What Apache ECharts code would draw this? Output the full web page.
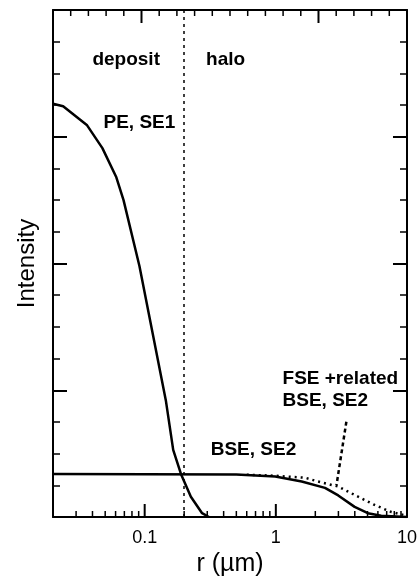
<!DOCTYPE html>
<html>
<head>
<meta charset="utf-8">
<script src="https://cdn.jsdelivr.net/npm/echarts@6/dist/echarts.min.js"></script>
<style>
  html, body { margin: 0; padding: 0; background: #fff; }
  #chart { width: 420px; height: 583px; }
</style>
</head>
<body>
<div id="chart"></div>
<script>
// Radial intensity profiles, r in µm
const peRadius     = [0.02, 0.0239, 0.0364, 0.0476, 0.0608, 0.069, 0.0912, 0.115, 0.145, 0.165, 0.189, 0.225, 0.274, 0.309];
const peIntensity  = [3.26, 3.24, 3.09, 2.91, 2.68, 2.50, 1.98, 1.45, 0.92, 0.53, 0.34, 0.16, 0.03, 0];

const bseRadius    = [0.02, 0.5, 0.99, 1.575, 2.37, 2.99, 3.99, 5.03, 6.36, 10];
const bseIntensity = [0.34, 0.335, 0.32, 0.28, 0.23, 0.17, 0.08, 0.03, 0.01, 0];

const fseRadius    = [0.6, 1.0, 1.67, 2.1, 2.99, 4.24, 5.67, 7.57, 9.55];
const fseIntensity = [0.334, 0.325, 0.31, 0.28, 0.24, 0.16, 0.095, 0.04, 0.015];

// Deposit / halo boundary radius
const depositEdge = 0.2;

// Bottom (log) axis ticks
const xMajorTicks = [0.1, 1, 10];
const xMinorTicks = [0.03, 0.04, 0.05, 0.06, 0.07, 0.08, 0.09,
                     0.2, 0.3, 0.4, 0.5, 0.6, 0.7, 0.8, 0.9,
                     2, 3, 4, 5, 6, 7, 8, 9];
// Top edge: plain linear tick row on a 0–20 scale
const topMajorTicks = [5, 15];
const topMinorTicks = [1, 2, 3, 4, 6, 7, 8, 9, 10, 11, 12, 13, 14, 16, 17, 18, 19];

// Text annotations anchored in data space (r, intensity, text)
const labelTexts = ['deposit', 'halo', 'PE, SE1', 'BSE, SE2'];
const labelR     = [0.0723, 0.414, 0.0912, 0.675];
const labelI     = [3.61, 3.61, 3.11, 0.53];
const fseLabel   = ['FSE +related', 'BSE, SE2'];
const fseLabelAt = [1.125, 1.0];
// Pointer from the FSE label down to the dotted profile
const pointerFrom = [3.45, 0.752];
const pointerTo   = [2.9, 0.25];

const zip = (a, b) => a.map((v, i) => [v, b[i]]);
const FONT = 'Liberation Sans, Arial, Helvetica, sans-serif';
const INK = '#000';
const MAJOR_LEN = 13, MINOR_LEN = 6;
const Y_MAX = 4;

const chart = echarts.init(document.getElementById('chart'), null, { renderer: 'canvas' });

const frameLine = { show: true, onZero: false, lineStyle: { color: INK, width: 2 } };
const yAxisBase = {
  type: 'value', min: 0, max: Y_MAX, interval: 1,
  splitLine: { show: false }, minorSplitLine: { show: false },
  axisLine: frameLine,
  axisTick: { show: true, inside: true, length: MAJOR_LEN + 1, lineStyle: { color: INK, width: 2 } },
  minorTick: { show: true, splitNumber: 4, length: 7, lineStyle: { color: INK, width: 1.5 } },
  axisLabel: { show: false }
};

const labelStyle = {
  fontFamily: FONT, fontWeight: 'bold', fontSize: 19, color: INK,
  textBorderWidth: 0, textShadowBlur: 0, opacity: 1
};

// Tick rows drawn through the axis scales: [value, isMajor]
const bottomTickData = xMajorTicks.map(v => [v, 1]).concat(xMinorTicks.map(v => [v, 0]));
const topTickData = topMajorTicks.map(v => [v, 1]).concat(topMinorTicks.map(v => [v, 0]));

// edgeY: intensity of the edge the ticks sit on; dir: -1 up, +1 down
const tickRenderer = (edgeY, dir) => (params, api) => {
  const major = api.value(1) === 1;
  const p = api.coord([api.value(0), edgeY]);
  const len = major ? MAJOR_LEN : MINOR_LEN;
  return {
    type: 'line',
    shape: { x1: p[0], y1: p[1], x2: p[0], y2: p[1] + dir * len },
    style: { stroke: INK, lineWidth: major ? 2 : 1.5 }
  };
};

chart.setOption({
  animation: false,
  backgroundColor: '#fff',
  grid: { left: 53, right: 10, top: 10, bottom: 66, containLabel: false },
  xAxis: [
    {
      type: 'log', logBase: 10, min: 0.02, max: 10, position: 'bottom',
      splitLine: { show: false }, minorSplitLine: { show: false },
      name: 'r (µm)', nameLocation: 'middle', nameGap: 32,
      nameTextStyle: { fontFamily: FONT, fontSize: 25, color: INK },
      axisLine: frameLine,
      axisTick: { show: false },
      axisLabel: { show: true, customValues: xMajorTicks, margin: 12, fontFamily: FONT, fontSize: 18, color: INK,
                   formatter: v => String(+Number(v).toPrecision(3)) }
    },
    {
      type: 'value', min: 0, max: 20, position: 'top',
      splitLine: { show: false }, minorSplitLine: { show: false },
      axisLine: frameLine,
      axisTick: { show: false },
      axisLabel: { show: false }
    }
  ],
  yAxis: [
    Object.assign({}, yAxisBase, {
      position: 'left',
      name: 'Intensity', nameLocation: 'middle', nameGap: 14,
      nameTextStyle: { fontFamily: FONT, fontSize: 24, color: INK }
    }),
    Object.assign({}, yAxisBase, { position: 'right' })
  ],
  series: [
    {
      name: 'bottom-ticks', type: 'custom', xAxisIndex: 0, yAxisIndex: 0,
      data: bottomTickData, silent: true, z: 4, clip: false,
      encode: { x: 0, y: 1 },
      renderItem: tickRenderer(0, -1)
    },
    {
      name: 'top-ticks', type: 'custom', xAxisIndex: 1, yAxisIndex: 0,
      data: topTickData, silent: true, z: 4, clip: false,
      encode: { x: 0, y: 1 },
      renderItem: tickRenderer(Y_MAX, 1)
    },
    {
      name: 'FSE + related BSE, SE2', type: 'line', xAxisIndex: 0, yAxisIndex: 0,
      data: zip(fseRadius, fseIntensity),
      showSymbol: false, smooth: false, z: 2, silent: true,
      lineStyle: { color: INK, width: 2.5, type: [2, 4] },
      markLine: {
        silent: true, symbol: ['none', 'none'],
        label: { show: false },
        lineStyle: { color: INK, width: 2.5, type: [4, 3] },
        data: [[{ coord: pointerFrom }, { coord: pointerTo }]]
      }
    },
    {
      name: 'BSE, SE2', type: 'line', xAxisIndex: 0, yAxisIndex: 0,
      data: zip(bseRadius, bseIntensity),
      showSymbol: false, smooth: false, z: 3, silent: true,
      lineStyle: { color: INK, width: 2.5 }
    },
    {
      name: 'PE, SE1', type: 'line', xAxisIndex: 0, yAxisIndex: 0,
      data: zip(peRadius, peIntensity),
      showSymbol: false, smooth: false, z: 3, silent: true,
      lineStyle: { color: INK, width: 2.5 },
      markLine: {
        silent: true, symbol: ['none', 'none'],
        label: { show: false },
        lineStyle: { color: INK, width: 1.5, type: [3, 4] },
        data: [{ xAxis: depositEdge }]
      }
    },
    {
      name: 'labels', type: 'scatter', xAxisIndex: 0, yAxisIndex: 0,
      data: labelTexts.map((t, i) => [labelR[i], labelI[i], t]),
      symbolSize: 1, itemStyle: { color: 'rgba(0,0,0,0)' }, silent: true, z: 5,
      label: Object.assign({ show: true, position: 'inside', formatter: p => p.value[2] }, labelStyle)
    },
    {
      name: 'fse-label', type: 'scatter', xAxisIndex: 0, yAxisIndex: 0,
      data: [[fseLabelAt[0], fseLabelAt[1], fseLabel.join('\n')]],
      symbolSize: 1, itemStyle: { color: 'rgba(0,0,0,0)' }, silent: true, z: 5,
      label: Object.assign({
        show: true, position: 'inside', align: 'left', verticalAlign: 'middle', lineHeight: 22,
        formatter: p => p.value[2]
      }, labelStyle)
    }
  ]
});
</script>
</body>
</html>
